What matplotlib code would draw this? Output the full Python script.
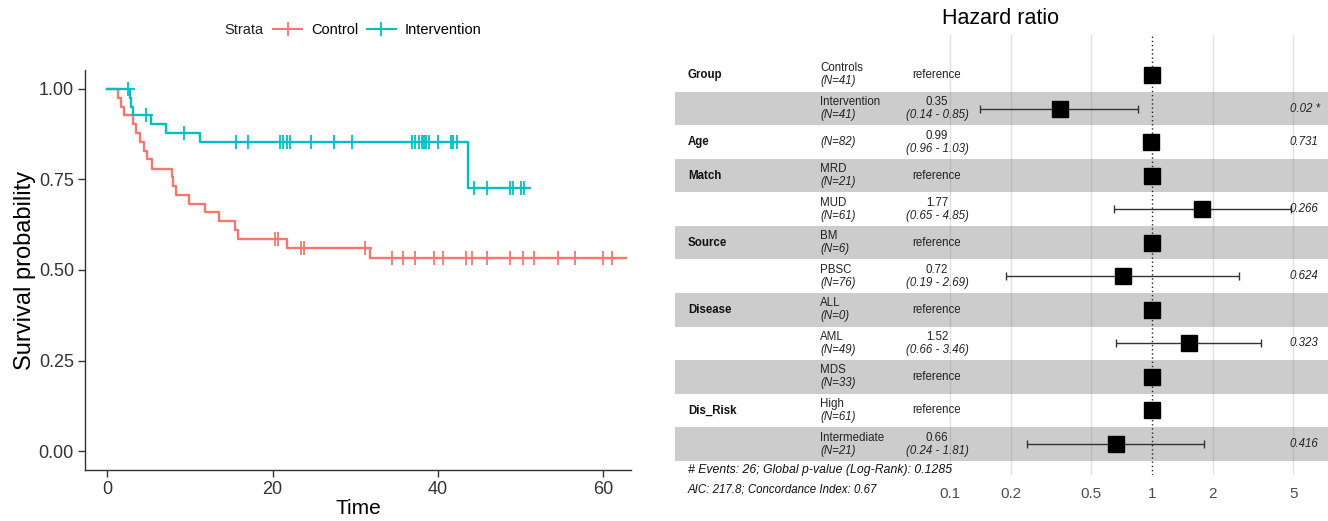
import numpy as np
import matplotlib
matplotlib.use("Agg")
import matplotlib.pyplot as plt
from matplotlib.lines import Line2D
import matplotlib.transforms as mtransforms

plt.rcParams['font.family'] = ['Liberation Sans', 'DejaVu Sans']

# Kaplan-Meier curves
ctrl_time = [0, 1.3, 1.6, 2.0, 3.1, 3.5, 3.9, 4.4, 4.8, 5.4, 7.8, 8.0, 8.3, 9.9, 11.8, 13.5, 15.4, 15.8, 21.8, 31.8]
ctrl_surv = [1.0, 0.976, 0.951, 0.927, 0.902, 0.878, 0.854, 0.829, 0.805, 0.780, 0.756, 0.732, 0.707,
             0.683, 0.659, 0.634, 0.610, 0.585, 0.561, 0.533]
ctrl_end = 62.8
ctrl_cens = [20.3, 20.7, 23.5, 23.8, 31.2, 34.5, 35.8, 37.2, 39.6, 40.6, 43.4, 44.1, 46.0, 48.8,
             50.3, 51.6, 54.6, 56.6, 60.0, 61.1]

int_time = [0, 2.7, 2.9, 3.1, 5.3, 7.1, 11.2, 43.7]
int_surv = [1.0, 0.976, 0.951, 0.927, 0.902, 0.878, 0.852, 0.727]
int_end = 51.0
int_cens = [2.5, 4.7, 9.3, 15.6, 17.0, 20.9, 21.3, 21.7, 22.1, 24.7, 27.4, 29.6, 36.9, 37.3, 37.7,
            38.1, 38.4, 38.6, 38.9, 40.0, 41.6, 41.9, 42.3, 44.4, 46.0, 48.7, 49.1, 50.1, 50.4]

# Cox model table
variables = ['Group', '', 'Age', 'Match', '', 'Source', '', 'Disease', '', '', 'Dis_Risk', '']
levels = ['Controls', 'Intervention', '', 'MRD', 'MUD', 'BM', 'PBSC', 'ALL', 'AML', 'MDS', 'High', 'Intermediate']
counts = ['(N=41)', '(N=41)', '(N=82)', '(N=21)', '(N=61)', '(N=6)', '(N=76)', '(N=0)', '(N=49)',
          '(N=33)', '(N=61)', '(N=21)']
hr = [1, 0.35, 0.99, 1, 1.77, 1, 0.72, 1, 1.52, 1, 1, 0.66]
ci_low = [np.nan, 0.14, 0.96, np.nan, 0.65, np.nan, 0.19, np.nan, 0.66, np.nan, np.nan, 0.24]
ci_high = [np.nan, 0.85, 1.03, np.nan, 4.85, np.nan, 2.69, np.nan, 3.46, np.nan, np.nan, 1.81]
pvals = ['', '0.02 *', '0.731', '', '0.266', '', '0.624', '', '0.323', '', '', '0.416']
hr_ticks = [0.1, 0.2, 0.5, 1, 2, 5]

red = '#F8766D'
cyan = '#00BFC4'

W, H = 1328, 521
fig = plt.figure(figsize=(W / 100, H / 100), dpi=100)


def px_box(x0, x1, y0, y1):
    # pixel box -> figure fraction rect
    return [x0 / W, 1 - y1 / H, (x1 - x0) / W, (y1 - y0) / H]


# ---------------- left panel: survival curves ----------------
ax = fig.add_axes(px_box(85, 631, 70, 470))


def draw_km(times, surv, end, cens, color):
    t = list(times) + [end]
    s = list(surv) + [surv[-1]]
    ax.step(t, s, where='post', color=color, lw=1.7, zorder=3)
    idx = np.searchsorted(times, cens, side='right') - 1
    ax.plot(cens, np.array(surv)[idx], ls='none', marker='+', color=color,
            markersize=10, mew=1.3, zorder=4)


draw_km(ctrl_time, ctrl_surv, ctrl_end, ctrl_cens, red)
draw_km(int_time, int_surv, int_end, int_cens, cyan)

ax.set_xlim(-2.7, 63.4)
ax.set_ylim(-0.052, 1.052)
ax.set_xticks([0, 20, 40, 60])
ax.set_yticks([0, 0.25, 0.5, 0.75, 1.0])
ax.set_yticklabels(['0.00', '0.25', '0.50', '0.75', '1.00'])
for sp in ['top', 'right']:
    ax.spines[sp].set_visible(False)
for sp in ['left', 'bottom']:
    ax.spines[sp].set_color('#333333')
    ax.spines[sp].set_linewidth(1.0)
ax.tick_params(labelsize=13, colors='#333333', length=5, width=1, pad=3)
ax.set_xlabel('Time', fontsize=15, labelpad=1)
ax.set_ylabel('Survival probability', fontsize=17, labelpad=2)

fig.text(224 / W, 1 - 30 / H, 'Strata', fontsize=10.5, va='center', color='#222222')
handles = [Line2D([], [], color=red, marker='+', markersize=10, mew=1.3, lw=1.5),
           Line2D([], [], color=cyan, marker='+', markersize=10, mew=1.3, lw=1.5)]
fig.legend(handles, ['Control', 'Intervention'], loc='center left',
           bbox_to_anchor=(273 / W, 1 - 30 / H), ncol=2, frameon=False, fontsize=10.5,
           handlelength=2.0, handletextpad=0.6, columnspacing=0.6, numpoints=1,
           borderaxespad=0, borderpad=0)

# ---------------- right panel: forest plot ----------------
fx0, fx1 = 675, 1328
dec = 202.0  # pixels per decade
xl = 0.1 * 10 ** (-(950 - fx0) / dec)
xr = 1.0 * 10 ** ((fx1 - 1152) / dec)
fax = fig.add_axes(px_box(fx0, fx1, 35, 475))
fax.set_xscale('log')
fax.set_xlim(xl, xr)
n = len(levels)
rows = np.arange(n, 0, -1)
row_px = 33.55
fax.set_ylim(1 - 31 / row_px, n + 40 / row_px)

for i, y in enumerate(rows):
    if i % 2 == 1:
        fax.axhspan(y - 0.5, y + 0.5, color='#cccccc', lw=0, zorder=0)

for t in hr_ticks:
    if t == 1:
        fax.axvline(t, color='#222222', ls=(0, (1, 2)), lw=1.0, zorder=1)
    else:
        fax.axvline(t, color='#888888', alpha=0.25, lw=1.0, zorder=1)

hr_arr = np.array(hr)
lo = np.array(ci_low)
hi = np.array(ci_high)
has_ci = ~np.isnan(lo)
fax.errorbar(hr_arr[has_ci], rows[has_ci],
             xerr=[hr_arr[has_ci] - lo[has_ci], hi[has_ci] - hr_arr[has_ci]],
             fmt='none', ecolor='#333333', elinewidth=1.0, capsize=3, capthick=1.0, zorder=2)
fax.plot(hr, rows, ls='none', marker='s', color='black', markersize=11, zorder=3)

trans = mtransforms.blended_transform_factory(fax.transAxes, fax.transData)
off = 6.5 / row_px
fs = 8.3
for i, y in enumerate(rows):
    if variables[i]:
        fax.text((688 - fx0) / 653, y, variables[i], transform=trans, fontsize=fs,
                 fontweight='bold', va='center', ha='left', color='#111111')
    if levels[i]:
        fax.text((820 - fx0) / 653, y + off, levels[i], transform=trans, fontsize=fs,
                 va='center', ha='left', color='#222222')
        fax.text((820 - fx0) / 653, y - off, counts[i], transform=trans, fontsize=fs,
                 style='italic', va='center', ha='left', color='#222222')
    else:
        fax.text((820 - fx0) / 653, y, counts[i], transform=trans, fontsize=fs,
                 style='italic', va='center', ha='left', color='#222222')
    if np.isnan(ci_low[i]):
        fax.text((937 - fx0) / 653, y, 'reference', transform=trans, fontsize=fs,
                 va='center', ha='center', color='#222222')
    else:
        fax.text((937 - fx0) / 653, y + off, f'{hr[i]:.2f}', transform=trans, fontsize=fs,
                 va='center', ha='center', color='#222222')
        fax.text((937 - fx0) / 653, y - off, f'({ci_low[i]:.2f} - {ci_high[i]:.2f})',
                 transform=trans, fontsize=fs, style='italic', va='center', ha='center',
                 color='#222222')
    if pvals[i]:
        fax.text((1290 - fx0) / 653, y, pvals[i], transform=trans, fontsize=fs,
                 style='italic', va='center', ha='left', color='#222222')

fax.set_xticks(hr_ticks)
fax.set_xticklabels(['0.1', '0.2', '0.5', '1', '2', '5'])
fax.xaxis.set_minor_locator(matplotlib.ticker.NullLocator())
fax.tick_params(axis='x', length=0, pad=9, labelsize=11, colors='#4d4d4d')
fax.set_yticks([])
for sp in fax.spines.values():
    sp.set_visible(False)

fig.text(1000 / W, 1 - 18 / H, 'Hazard ratio', fontsize=15.5, ha='center', va='center')
fig.text(688 / W, 1 - 470 / H, '# Events: 26; Global p-value (Log-Rank): 0.1285',
         fontsize=8.8, style='italic', va='center', color='#111111')
fig.text(688 / W, 1 - 489 / H, 'AIC: 217.8; Concordance Index: 0.67',
         fontsize=8.3, style='italic', va='center', color='#111111')

fig.savefig('out.png', dpi=100)
